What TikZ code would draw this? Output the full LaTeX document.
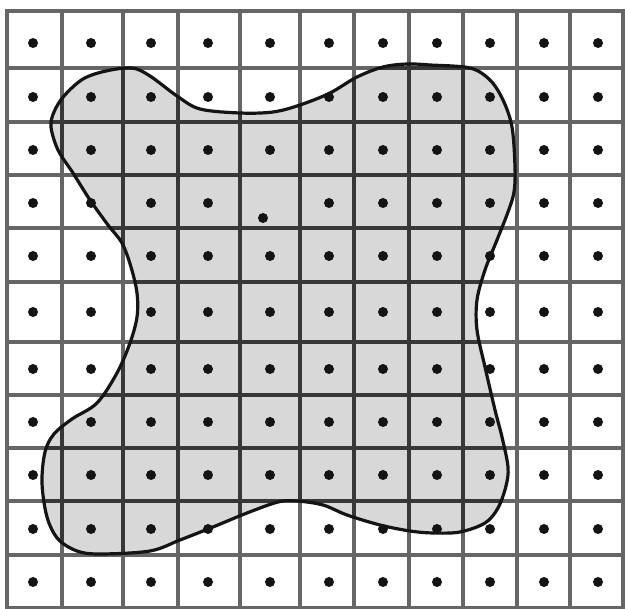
\documentclass[tikz,border=0pt]{standalone}
\definecolor{gridout}{HTML}{666666}
\definecolor{gridin}{HTML}{383838}
\definecolor{blobfill}{HTML}{D8D8D8}
\tikzset{
  gridline/.style={line width=3.6pt, draw=gridout},
  gridlinein/.style={line width=3.6pt, draw=gridin},
  dot/.style={fill=black!92},
  outline/.style={line width=3.2pt, draw=black!92},
}
\begin{document}
\begin{tikzpicture}[x=1pt,y=-1pt]
\useasboundingbox[fill=white] (0,0) rectangle (625,609);
% blob shape
\path[save path=\blobpath] plot[smooth cycle, tension=0.55] coordinates {
 (132,68) (150,76) (177,96) (200,109) (240,113) (273,112) (300,105) (330,93)
 (357,77) (383,67) (407,64) (430,65) (470,68) (490,80) (503,100) (512,127)
 (515,167) (514,192) (508,212) (497,240) (485,270) (477,300) (477,330)
 (485,367) (495,410) (502,437) (508,467) (506,486) (498,508) (485,523)
 (460,532) (433,533) (410,531) (380,525) (347,515) (323,505) (297,501)
 (278,502) (247,513) (213,527) (180,540) (150,551) (100,554) (77,551)
 (58,539) (47,517) (42,483) (45,452) (54,434) (72,419) (97,403) (117,373)
 (130,343) (137,317) (137,293) (131,267) (122,243) (108,225) (90,200)
 (73,173) (58,150) (51,127) (54,112) (64,96) (83,79) (106,71)};
\fill[blobfill, use path=\blobpath];
% grid
\foreach \x in {7,62,123,178,240,300,354,409,463,517,570,623}
  \draw[gridline] (\x,9.2) -- (\x,609);
\foreach \y in {11,68,122,175,228,282,342,395,448,501,555,608}
  \draw[gridline] (5.2,\y) -- (625,\y);
\begin{scope}
  \clip[use path=\blobpath];
  \foreach \x in {7,62,123,178,240,300,354,409,463,517,570,623}
    \draw[gridlinein] (\x,9.2) -- (\x,609);
  \foreach \y in {11,68,122,175,228,282,342,395,448,501,555,608}
    \draw[gridlinein] (5.2,\y) -- (625,\y);
\end{scope}
% dots
\foreach \y in {43,97,150,203,256,312,369,422,475,529,582}
  \foreach \x in {33,91,151,208,270,329,383,437,490,544,598}{
    \ifdim \y pt=203pt \ifdim \x pt=270pt \else
      \fill[dot] (\x,\y) circle[radius=5pt];\fi
    \else
      \fill[dot] (\x,\y) circle[radius=5pt];
    \fi
  }
\fill[dot] (263,218) circle[radius=5pt];
% outline
\draw[outline, use path=\blobpath];
\end{tikzpicture}
\end{document}
